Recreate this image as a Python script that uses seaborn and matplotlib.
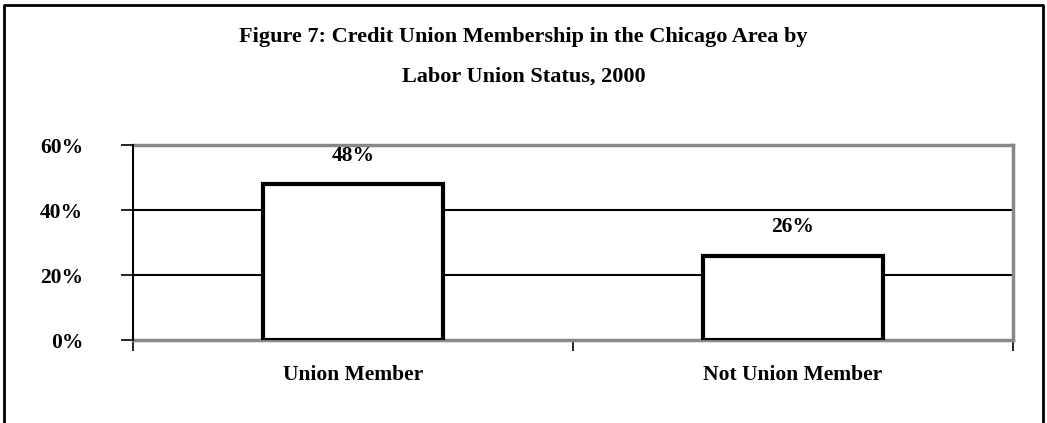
import matplotlib
matplotlib.use("Agg")
import matplotlib.pyplot as plt
import seaborn as sns
import pandas as pd
from matplotlib.lines import Line2D

# chart data
categories = ["Union Member", "Not Union Member"]
values = [0.48, 0.26]
value_labels = ["48%", "26%"]
yticks = [0, 0.2, 0.4, 0.6]
ytick_labels = ["0%", "20%", "40%", "60%"]

df = pd.DataFrame({"Status": categories, "Share": values})

sns.set_style("white")
plt.rcParams['font.family'] = ['Liberation Serif', 'DejaVu Serif']
plt.rcParams['font.weight'] = 'bold'
plt.rcParams['text.color'] = 'black'
plt.rcParams['xtick.color'] = 'black'
plt.rcParams['ytick.color'] = 'black'

W, H = 1047, 423
fig = plt.figure(figsize=(W / 100, H / 100), dpi=100)
ax = fig.add_axes([133 / W, 1 - 340 / H, 880 / W, 195 / H])

sns.barplot(data=df, x="Status", y="Share", color="white", edgecolor="black",
            linewidth=3, width=0.41, ax=ax, zorder=3)

ax.set_ylim(0, 0.6)
ax.set_xlim(-0.5, 1.5)
ax.set_yticks(yticks)
ax.set_yticklabels(ytick_labels, fontsize=15.5, fontweight='bold')
ax.set_xticks([-0.5, 0.5, 1.5])
ax.set_xticklabels([])
ax.set_xticks([0, 1], minor=True)
ax.set_xticklabels(categories, minor=True, fontsize=15.5, fontweight='bold')
ax.tick_params(axis='x', which='minor', length=0, pad=18)
ax.tick_params(axis='x', which='major', direction='out', length=8, width=1.2, color='black', bottom=True)
ax.tick_params(axis='y', direction='out', length=9, width=1.2, color='black', pad=27, left=True)
ax.set_xlabel("")
ax.set_ylabel("")

# gridlines
for yv in [0.2, 0.4]:
    ax.axhline(yv, color='black', lw=1.5, zorder=1)

for side in ['top', 'right', 'bottom']:
    ax.spines[side].set_color('#888888')
    ax.spines[side].set_linewidth(2.5)
ax.spines['left'].set_color('black')
ax.spines['left'].set_linewidth(1.5)
ax.spines['left'].set_zorder(5)

for i, (v, lab) in enumerate(zip(values, value_labels)):
    ax.annotate(lab, xy=(i, v), xytext=(0, 13), textcoords='offset points',
                ha='center', va='bottom', fontsize=15.5, fontweight='bold')

fig.text(0.5, 1 - 42 / H, "Figure 7: Credit Union Membership in the Chicago Area by",
         ha='center', va='baseline', fontsize=16, fontweight='bold')
fig.text(0.5, 1 - 82 / H, "Labor Union Status, 2000",
         ha='center', va='baseline', fontsize=16, fontweight='bold')

# outer frame (left, top, right)
fx = [4 / W, 4 / W, 1043 / W, 1043 / W]
fy = [0, 1 - 5 / H, 1 - 5 / H, 0]
fig.add_artist(Line2D(fx, fy, transform=fig.transFigure, color='black', lw=2))

fig.savefig("out.png", dpi=100)
